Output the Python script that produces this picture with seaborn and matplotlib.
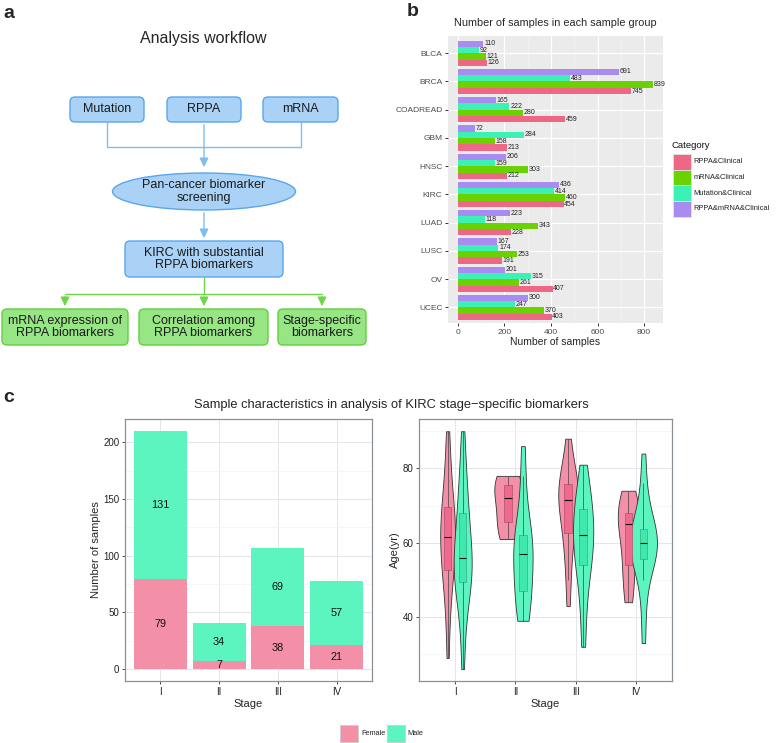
import numpy as np
import pandas as pd
import matplotlib
matplotlib.use("Agg")
import matplotlib.pyplot as plt
from matplotlib.patches import FancyBboxPatch, Ellipse, Rectangle
import seaborn as sns

# ---------------- data ----------------
# panel a (workflow text)
wf_title = "Analysis workflow"
wf_inputs = ["Mutation", "RPPA", "mRNA"]
wf_screen = "Pan-cancer biomarker\nscreening"
wf_kirc = "KIRC with substantial\nRPPA biomarkers"
wf_outputs = ["mRNA expression of\nRPPA biomarkers", "Correlation among\nRPPA biomarkers", "Stage-specific\nbiomarkers"]

# panel b
cancers = ["BLCA", "BRCA", "COADREAD", "GBM", "HNSC", "KIRC", "LUAD", "LUSC", "OV", "UCEC"]
categories = ["RPPA&Clinical", "mRNA&Clinical", "Mutation&Clinical", "RPPA&mRNA&Clinical"]
rppa_clin = [126, 745, 459, 213, 212, 454, 228, 191, 407, 403]
mrna_clin = [121, 839, 280, 158, 303, 460, 343, 253, 261, 370]
mut_clin = [92, 483, 222, 284, 159, 414, 118, 174, 315, 247]
rppa_mrna_clin = [110, 691, 165, 72, 206, 436, 223, 167, 201, 300]

# panel c
stages = ["I", "II", "III", "IV"]
female_n = [79, 7, 38, 21]
male_n = [131, 34, 69, 57]
sexes = ["Female", "Male"]
# approximate age samples read from violin shapes / box summaries
age_female = {
    "I": [29, 38, 45, 49, 51, 52, 55, 57, 59, 60, 61, 62, 63, 65, 67, 69, 70, 72, 75, 79, 85, 90],
    "II": [61, 64, 67, 72, 74, 77, 78],
    "III": [43, 50, 56, 60, 62, 65, 68, 70, 71, 72, 73, 74, 75, 76, 77, 79, 83, 88],
    "IV": [44, 47, 52, 54, 58, 62, 65, 66, 67, 68, 70, 72, 74],
}
age_male = {
    "I": [26, 35, 42, 46, 48, 49, 50, 52, 53, 54, 55, 56, 57, 59, 61, 64, 67, 69, 71, 74, 78, 83, 90],
    "II": [39, 40, 42, 45, 47, 49, 52, 55, 57, 58, 60, 61, 62, 64, 70, 78, 86],
    "III": [32, 40, 47, 52, 54, 56, 58, 60, 62, 63, 65, 67, 69, 71, 73, 76, 81],
    "IV": [33, 42, 50, 54, 55, 57, 58, 59, 60, 60, 61, 62, 63, 64, 66, 70, 76, 84],
}

# ---------------- style ----------------
sns.set_theme(style="white")
plt.rcParams["font.family"] = ["Liberation Sans", "DejaVu Sans"]

W, H = 777, 743
fig = plt.figure(figsize=(W / 100, H / 100), dpi=100)


def px_axes(l, t, r, b):
    return fig.add_axes([l / W, 1 - b / H, (r - l) / W, (b - t) / H])


# ---------------- panel a ----------------
axa = px_axes(0, 0, 400, 360)
axa.set_xlim(0, 400)
axa.set_ylim(360, 0)
axa.axis("off")

blue_fc, blue_ec = "#a9d2f6", "#5aa6ea"
green_fc, green_ec = "#98e585", "#62cf3c"
blue_line, green_line = "#7dbdf2", "#6fd64a"

axa.text(203, 38, wf_title, ha="center", va="center", fontsize=11.5)


def rbox(x0, y0, x1, y1, fc, ec, text):
    p = FancyBboxPatch((x0, y0), x1 - x0, y1 - y0, boxstyle="round,pad=0,rounding_size=5",
                       fc=fc, ec=ec, lw=1.0)
    axa.add_patch(p)
    axa.text((x0 + x1) / 2, (y0 + y1) / 2, text, ha="center", va="center",
             fontsize=9, linespacing=1.05, color="#1a1a1a")


arrow_kw = "-|>,head_length=0.45,head_width=0.22"
in_boxes = [(70, 97, 144, 122), (167, 97, 241, 122), (263, 97, 338, 122)]
for (x0, y0, x1, y1), t in zip(in_boxes, wf_inputs):
    rbox(x0, y0, x1, y1, blue_fc, blue_ec, t)
# connectors
axa.plot([107, 107, 301, 301], [122, 147, 147, 122], color=blue_line, lw=1.0)
axa.annotate("", xy=(204, 170), xytext=(204, 122),
             arrowprops=dict(arrowstyle=arrow_kw, color=blue_line, lw=1.0))
axa.add_patch(Ellipse((204, 191.5), 183, 37, fc=blue_fc, ec=blue_ec, lw=1.0))
axa.text(204, 191.5, wf_screen, ha="center", va="center", fontsize=9, linespacing=1.05, color="#1a1a1a")
axa.annotate("", xy=(204, 241), xytext=(204, 210),
             arrowprops=dict(arrowstyle=arrow_kw, color=blue_line, lw=1.0))
rbox(125, 241, 283, 277, blue_fc, blue_ec, wf_kirc)
axa.plot([204, 204], [277, 294], color=green_line, lw=1.0)
axa.plot([65, 322], [294, 294], color=green_line, lw=1.0)
out_boxes = [(2, 309, 128, 345), (139, 309, 268, 345), (278, 309, 366, 345)]
for (x0, y0, x1, y1), xc in zip(out_boxes, [65, 204, 322]):
    axa.annotate("", xy=(xc, y0), xytext=(xc, 294),
                 arrowprops=dict(arrowstyle=arrow_kw, color=green_line, lw=1.0))
for (x0, y0, x1, y1), t in zip(out_boxes, wf_outputs):
    rbox(x0, y0, x1, y1, green_fc, green_ec, t)

fig.text(3 / W, 1 - 14 / H, "a", fontsize=14, fontweight="bold", va="center", ha="left")
fig.text(407 / W, 1 - 12 / H, "b", fontsize=14, fontweight="bold", va="center", ha="left")
fig.text(3 / W, 1 - 397 / H, "c", fontsize=14, fontweight="bold", va="center", ha="left")

# ---------------- panel b ----------------
axb = px_axes(448, 36, 663, 323)
cat_colors = {"RPPA&Clinical": "#ee6784", "mRNA&Clinical": "#6ad200",
              "Mutation&Clinical": "#3df0b4", "RPPA&mRNA&Clinical": "#a98cf2"}
dfb = pd.DataFrame({
    "cancer": cancers * 4,
    "Category": sum([[c] * len(cancers) for c in categories], []),
    "n": rppa_clin + mrna_clin + mut_clin + rppa_mrna_clin,
})
hue_order_b = ["RPPA&mRNA&Clinical", "Mutation&Clinical", "mRNA&Clinical", "RPPA&Clinical"]
sns.barplot(data=dfb, y="cancer", x="n", hue="Category", hue_order=hue_order_b, order=cancers,
            palette=cat_colors, width=0.9, linewidth=0, saturation=1, ax=axb, legend=False)
for cont in axb.containers:
    axb.bar_label(cont, fontsize=5, padding=0.5, color="#222222")
axb.set_facecolor("#ebebeb")
axb.set_xlim(-42, 881)
axb.set_ylim(9.55, -0.61)
axb.set_xticks([0, 200, 400, 600, 800])
axb.set_xticks([100, 300, 500, 700], minor=True)
axb.grid(True, which="major", color="white", lw=0.9)
axb.grid(True, which="minor", axis="x", color="#f5f5f5", lw=0.5)
axb.set_axisbelow(True)
for s in axb.spines.values():
    s.set_visible(False)
axb.tick_params(axis="both", which="major", length=2.5, width=0.7, color="#333333",
                labelsize=6, pad=1.5, labelcolor="#4d4d4d", left=True, bottom=True)
axb.tick_params(axis="both", which="minor", length=0)
axb.set_ylabel("")
axb.set_xlabel("Number of samples", fontsize=7.5, labelpad=1)
axb.set_title("Number of samples in each sample group", fontsize=7.8, pad=7)

# ---------------- panel c ----------------
female_c, male_c = "#f48fa8", "#5cf5c0"
fig.text(391 / W, 1 - 405 / H, "Sample characteristics in analysis of KIRC stage\u2212specific biomarkers",
         fontsize=9.3, ha="center", va="center")


def style_bw(ax):
    ax.set_facecolor("white")
    for s in ax.spines.values():
        s.set_visible(True)
        s.set_color("#8a9196")
        s.set_linewidth(0.9)
    ax.grid(True, which="major", color="#e3e6ea", lw=0.7)
    ax.grid(True, which="minor", color="#f2f3f5", lw=0.5)
    ax.set_axisbelow(True)
    ax.tick_params(axis="both", which="major", length=2.5, width=0.6, color="#333333",
                   labelsize=7, pad=1.5, left=True, bottom=True, labelcolor="#222222")
    ax.tick_params(axis="both", which="minor", length=0)


axc1 = px_axes(125, 419, 372, 681)
totals = [f + m for f, m in zip(female_n, male_n)]
sns.barplot(x=stages, y=totals, color=male_c, width=0.9, saturation=1, linewidth=0, ax=axc1)
sns.barplot(x=stages, y=female_n, color=female_c, width=0.9, saturation=1, linewidth=0, ax=axc1)
for i, (f, m) in enumerate(zip(female_n, male_n)):
    axc1.text(i, f / 2, str(f), ha="center", va="center", fontsize=7.8, color="#111111")
    axc1.text(i, f + m / 2, str(m), ha="center", va="center", fontsize=7.8, color="#111111")
axc1.set_ylim(-10.5, 220.5)
axc1.set_xlim(-0.6, 3.6)
axc1.set_yticks([0, 50, 100, 150, 200])
axc1.set_yticks([25, 75, 125, 175], minor=True)
style_bw(axc1)
axc1.set_xlabel("Stage", fontsize=8, labelpad=2)
axc1.set_ylabel("Number of samples", fontsize=8, labelpad=2)

axc2 = px_axes(419, 419, 672, 681)
offset = {"Female": -0.125, "Male": 0.125}
rows = []
for si, st in enumerate(stages):
    for sx, src in (("Female", age_female), ("Male", age_male)):
        for a in src[st]:
            rows.append({"pos": si + offset[sx], "sex": sx, "age": a})
dfc = pd.DataFrame(rows)
pal = {"Female": female_c, "Male": male_c}
sns.violinplot(data=dfc, x="pos", y="age", hue="sex", hue_order=sexes, palette=pal,
               native_scale=True, dodge=False, orient="x", width=1.8, cut=0,
               density_norm="area", inner=None, linewidth=0.6, linecolor="#333333",
               saturation=1, bw_adjust=1.0, legend=False, ax=axc2)
box_pal = {"Female": "#ef6a8e", "Male": "#3fe9ad"}
sns.boxplot(data=dfc, x="pos", y="age", hue="sex", hue_order=sexes, palette=box_pal,
            native_scale=True, dodge=False, orient="x", width=0.5, showfliers=False,
            showcaps=False, whis=1.5, linewidth=0.5, linecolor="#444444", saturation=1,
            medianprops=dict(color="#111111", lw=0.8), legend=False, ax=axc2)
for p in axc2.patches:
    fc = p.get_facecolor()
    p.set_edgecolor((fc[0] * 0.75, fc[1] * 0.75, fc[2] * 0.75, 1))
axc2.set_xlim(-0.6, 3.6)
axc2.set_ylim(22.8, 93.3)
axc2.set_xticks(range(len(stages)))
axc2.set_xticklabels(stages)
axc2.set_yticks([40, 60, 80])
axc2.set_yticks([30, 50, 70, 90], minor=True)
axc2.set_xticks([0.5, 1.5, 2.5], minor=True)
style_bw(axc2)
axc2.grid(False, which="minor", axis="x")
axc2.set_xlabel("Stage", fontsize=8, labelpad=2)
axc2.set_ylabel("Age(yr)", fontsize=8, labelpad=2)

# ---------------- legends (drawn in figure pixel space) ----------------
axl = fig.add_axes([0, 0, 1, 1], zorder=5)
axl.set_xlim(0, W)
axl.set_ylim(H, 0)
axl.axis("off")
axl.patch.set_alpha(0)
axl.text(672, 146, "Category", fontsize=6.8, ha="left", va="center", color="#111111")
for k, c in enumerate(categories):
    y0 = 154 + k * 15.7
    axl.add_patch(Rectangle((673, y0), 18, 15.7, fc=cat_colors[c], ec="#e2e2e2", lw=0.6))
    axl.text(693.5, y0 + 7.8, c, fontsize=5.4, ha="left", va="center", color="#222222")

sex_colors = [female_c, male_c]
for k, (sx, col) in enumerate(zip(sexes, sex_colors)):
    x0 = 340 + k * 46.5
    axl.add_patch(Rectangle((x0, 725), 18, 17, fc=col, ec="#cccccc", lw=0.6))
    axl.text(x0 + 21, 733.5, sx, fontsize=5.3, ha="left", va="center", color="#222222")

fig.savefig("out.png", dpi=100)
